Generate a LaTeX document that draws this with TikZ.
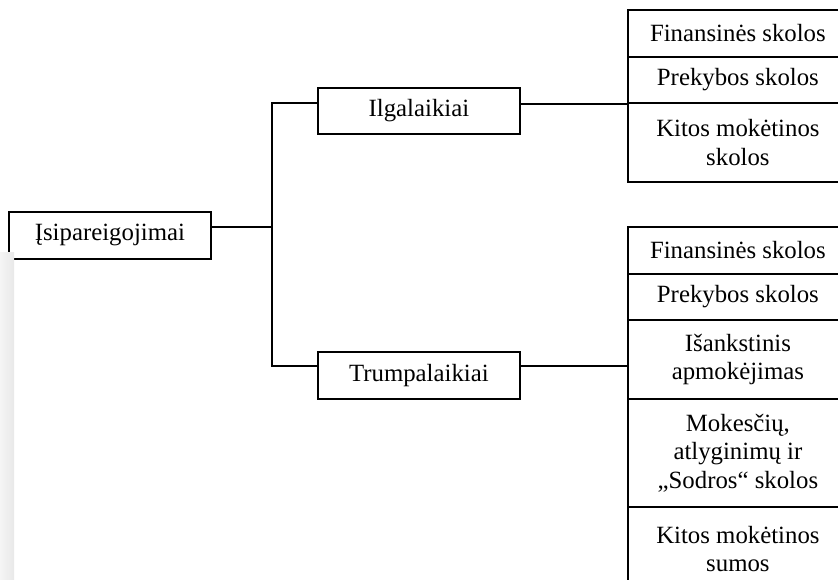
\documentclass[tikz,border=0pt]{standalone}
\usepackage{fontspec}
\setmainfont{Liberation Serif}
\begin{document}
\begin{tikzpicture}[x=1pt,y=-1pt,
  box/.style={draw,line width=1.8pt,rectangle,inner sep=0pt,anchor=north west,align=center,
    font=\fontsize{24.8}{28.5}\selectfont},
  cell/.style={box,minimum width=220pt},
  conn/.style={line width=1.8pt}]
\useasboundingbox (0,0) rectangle (838,580);
% left tree
\node[box,minimum width=202pt,minimum height=47pt] (root) at (8,211) {Įsipareigojimai};
\node[box,minimum width=202pt,minimum height=46pt] (ilg) at (317,87) {Ilgalaikiai};
\node[box,minimum width=202pt,minimum height=47pt] (tru) at (317,351) {Trumpalaikiai};
% top stack
\node[cell,minimum height=47pt] (f1) at (627,9) {Finansinės skolos};
\node[cell,minimum height=46pt] (p1) at (627,56) {Prekybos skolos};
\node[cell,minimum height=79pt] (k1) at (627,102) {Kitos mokėtinos\\skolos};
% bottom stack
\node[cell,minimum height=47pt] (f2) at (627,226) {Finansinės skolos};
\node[cell,minimum height=46pt] (p2) at (627,273) {Prekybos skolos};
\node[cell,minimum height=79pt] (i2) at (627,319) {Išankstinis\\apmokėjimas};
\node[cell,minimum height=108pt] (m2) at (627,398) {Mokesčių,\\atlyginimų ir\\„Sodros“ skolos};
\node[cell,minimum height=84pt] (k2) at (627,506) {Kitos mokėtinos\\sumos};
% junctions
\coordinate (j) at (272,227);
\coordinate (ja) at (272,103);
\coordinate (jb) at (272,366);
\draw[conn] (root.east |- j) -- (j);
\draw[conn] (ilg.west |- ja) -- (ja) -- (jb) -- (tru.west |- jb);
\draw[conn] (ilg.east |- p1.south west) -- (p1.south west);
\draw[conn] (tru.east |- jb) -- (i2.west |- jb);
% grey strip
\shade[left color=black!4, right color=black!9] (0,252) rectangle (14,580);
\end{tikzpicture}
\end{document}
